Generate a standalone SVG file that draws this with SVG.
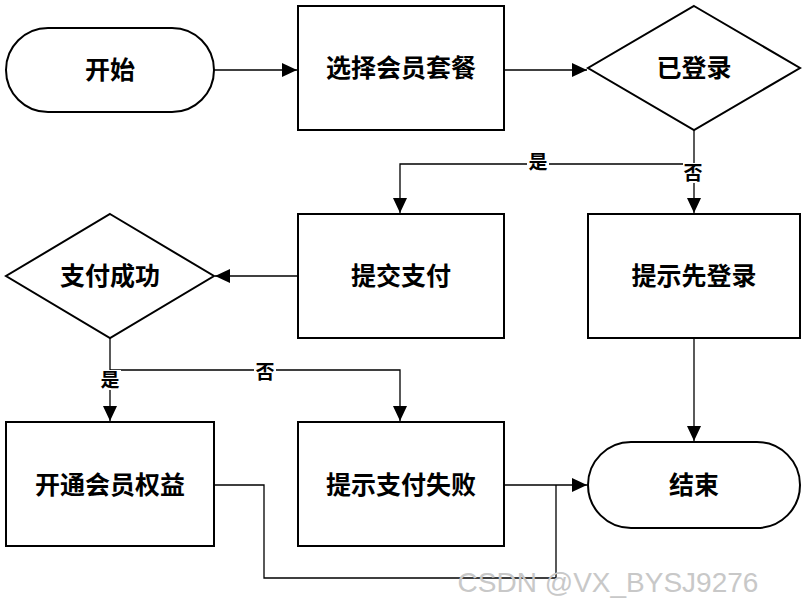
<svg xmlns="http://www.w3.org/2000/svg" width="802" height="611" viewBox="0 0 802 611">
<style>
.s{fill:#fff;stroke:#000;stroke-width:2}
.t{font-family:"Liberation Serif","Noto Sans CJK SC",serif;font-size:25px;font-weight:bold;text-anchor:middle;dominant-baseline:central}
.l{font-family:"Liberation Serif","Noto Sans CJK SC",serif;font-size:19px;font-weight:bold;text-anchor:middle;dominant-baseline:central}
.c{fill:none;stroke:#000;stroke-width:1.3}
.bg{fill:#fff}
</style>
<defs><marker id="a" markerWidth="16" markerHeight="16" refX="15" refY="8" orient="auto" markerUnits="userSpaceOnUse" viewBox="0 0 16 16"><path d="M0,1L15,8L0,15z"/></marker></defs>
<rect width="802" height="611" fill="#fff"/>
<g id="connectors">
<path class="c" d="M214,70H297" marker-end="url(#a)"/>
<path class="c" d="M504,70H587" marker-end="url(#a)"/>
<path class="c" d="M694,130V213" marker-end="url(#a)"/>
<path class="c" d="M694,164H400V213" marker-end="url(#a)"/>
<path class="c" d="M298,276H215" marker-end="url(#a)"/>
<path class="c" d="M110,338V421" marker-end="url(#a)"/>
<path class="c" d="M110,370H400V421" marker-end="url(#a)"/>
<path class="c" d="M694,338V441" marker-end="url(#a)"/>
<path class="c" d="M504,485H587" marker-end="url(#a)"/>
<path class="c" d="M214,485H264V578H556V485"/>
<rect class="bg" x="527" y="152" width="22" height="20"/><text class="l" x="538" y="162">是</text>
<rect class="bg" x="683" y="163" width="22" height="20"/><text class="l" x="693" y="173">否</text>
<rect class="bg" x="99" y="370" width="22" height="20"/><text class="l" x="110" y="380">是</text>
<rect class="bg" x="254" y="362" width="22" height="20"/><text class="l" x="265" y="372">否</text>
</g>
<g id="start"><rect class="s" x="6" y="28" width="208" height="84" rx="42"/><text class="t" x="110" y="70">开始</text></g>
<g id="select"><rect class="s" x="298" y="6" width="206" height="124"/><text class="t" x="401" y="68">选择会员套餐</text></g>
<g id="login"><polygon class="s" points="694,6 800,68 694,130 588,68"/><text class="t" x="694" y="68">已登录</text></g>
<g id="submit"><rect class="s" x="298" y="214" width="206" height="124"/><text class="t" x="401" y="276">提交支付</text></g>
<g id="tiplogin"><rect class="s" x="588" y="214" width="212" height="124"/><text class="t" x="694" y="276">提示先登录</text></g>
<g id="paid"><polygon class="s" points="110,214 214,276 110,338 6,276"/><text class="t" x="110" y="276">支付成功</text></g>
<g id="open"><rect class="s" x="6" y="422" width="208" height="124"/><text class="t" x="110" y="485">开通会员权益</text></g>
<g id="fail"><rect class="s" x="298" y="422" width="206" height="124"/><text class="t" x="401" y="485">提示支付失败</text></g>
<g id="end"><rect class="s" x="588" y="442" width="212" height="86" rx="43"/><text class="t" x="694" y="485">结束</text></g>
<text x="608" y="592" font-family="Liberation Sans,sans-serif" font-size="28" fill="#c8c8c8" text-anchor="middle">CSDN @VX_BYSJ9276</text>
</svg>
